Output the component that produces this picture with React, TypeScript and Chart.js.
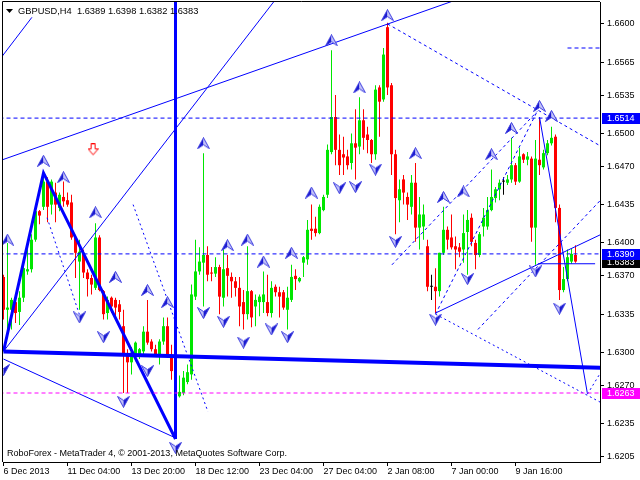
import React, { useEffect, useRef } from 'react';
import { Chart, registerables } from 'chart.js';

Chart.register(...registerables);

// ---------- data ----------
const opens = [
  1.6369, 1.6339, 1.6339, 1.6346, 1.6337, 1.6350, 1.6374, 1.6376, 1.6403, 1.6429,
  1.6433, 1.6456, 1.6435, 1.6446, 1.6432, 1.6442, 1.6439, 1.6437, 1.6405, 1.6383,
  1.6391, 1.6373, 1.6368, 1.6359, 1.6405, 1.6356, 1.6336, 1.6350, 1.6348, 1.6344,
  1.6324, 1.6298, 1.6291, 1.6296, 1.6298, 1.6301, 1.6319, 1.6310, 1.6303, 1.6298,
  1.6310, 1.6324, 1.6298, 1.6283, 1.6260, 1.6263, 1.6273, 1.6280, 1.6351, 1.6374,
  1.6382, 1.6389, 1.6373, 1.6372, 1.6378, 1.6350, 1.6377, 1.6369, 1.6365, 1.6359,
  1.6346, 1.6335, 1.6356, 1.6342, 1.6346, 1.6346, 1.6346, 1.6336, 1.6360, 1.6355,
  1.6355, 1.6339, 1.6348, 1.6370, 1.6365, 1.6382, 1.6385, 1.6413, 1.6413, 1.6409,
  1.6430, 1.6444, 1.6483, 1.6515, 1.6485, 1.6481, 1.6479, 1.6473, 1.6491, 1.6488,
  1.6512, 1.6499, 1.6494, 1.6481, 1.6542, 1.6531, 1.6597, 1.6544, 1.6481, 1.6439,
  1.6458, 1.6442, 1.6433, 1.6455, 1.6414, 1.6415, 1.6397, 1.6360, 1.6360, 1.6356,
  1.6391, 1.6412, 1.6405, 1.6397, 1.6396, 1.6394, 1.6410, 1.6423, 1.6400, 1.6389,
  1.6415, 1.6415, 1.6430, 1.6441, 1.6449, 1.6456, 1.6455, 1.6458, 1.6471, 1.6456,
  1.6481, 1.6476, 1.6477, 1.6414, 1.6476, 1.6469, 1.6482, 1.6491, 1.6497, 1.6432,
  1.6357, 1.6367, 1.6383, 1.6389,
];
const highs = [
  1.6371, 1.6400, 1.6350, 1.6350, 1.6356, 1.6380, 1.6394, 1.6408, 1.6435, 1.6430,
  1.6464, 1.6460, 1.6458, 1.6455, 1.6446, 1.6456, 1.6446, 1.6444, 1.6407, 1.6403,
  1.6394, 1.6376, 1.6371, 1.6418, 1.6407, 1.6357, 1.6351, 1.6351, 1.6350, 1.6348,
  1.6339, 1.6303, 1.6305, 1.6310, 1.6304, 1.6324, 1.6348, 1.6312, 1.6307, 1.6312,
  1.6332, 1.6332, 1.6307, 1.6289, 1.6279, 1.6283, 1.6289, 1.6362, 1.6403, 1.6396,
  1.6482, 1.6397, 1.6378, 1.6387, 1.6380, 1.6394, 1.6389, 1.6373, 1.6369, 1.6369,
  1.6357, 1.6397, 1.6357, 1.6353, 1.6353, 1.6374, 1.6371, 1.6365, 1.6362, 1.6360,
  1.6357, 1.6360, 1.6380, 1.6376, 1.6369, 1.6388, 1.6421, 1.6435, 1.6424, 1.6435,
  1.6444, 1.6490, 1.6576, 1.6535, 1.6499, 1.6497, 1.6485, 1.6500, 1.6522, 1.6533,
  1.6522, 1.6506, 1.6495, 1.6544, 1.6544, 1.6578, 1.6601, 1.6546, 1.6485, 1.6458,
  1.6462, 1.6446, 1.6462, 1.6473, 1.6442, 1.6435, 1.6403, 1.6371, 1.6377, 1.6391,
  1.6433, 1.6415, 1.6426, 1.6406, 1.6400, 1.6426, 1.6430, 1.6427, 1.6403, 1.6410,
  1.6432, 1.6442, 1.6467, 1.6451, 1.6458, 1.6460, 1.6462, 1.6496, 1.6473, 1.6487,
  1.6482, 1.6483, 1.6479, 1.6494, 1.6514, 1.6485, 1.6494, 1.6506, 1.6499, 1.6435,
  1.6378, 1.6394, 1.6395, 1.6398,
];
const lows = [
  1.6330, 1.6321, 1.6321, 1.6327, 1.6325, 1.6346, 1.6371, 1.6373, 1.6401, 1.6417,
  1.6430, 1.6419, 1.6426, 1.6419, 1.6429, 1.6433, 1.6433, 1.6403, 1.6368, 1.6339,
  1.6368, 1.6351, 1.6353, 1.6357, 1.6356, 1.6330, 1.6330, 1.6336, 1.6330, 1.6330,
  1.6263, 1.6263, 1.6280, 1.6292, 1.6294, 1.6298, 1.6307, 1.6301, 1.6297, 1.6289,
  1.6307, 1.6295, 1.6275, 1.6259, 1.6259, 1.6261, 1.6271, 1.6275, 1.6348, 1.6371,
  1.6342, 1.6365, 1.6365, 1.6369, 1.6335, 1.6342, 1.6351, 1.6350, 1.6351, 1.6324,
  1.6321, 1.6330, 1.6323, 1.6324, 1.6333, 1.6336, 1.6333, 1.6332, 1.6351, 1.6332,
  1.6339, 1.6321, 1.6346, 1.6357, 1.6364, 1.6369, 1.6380, 1.6403, 1.6406, 1.6408,
  1.6429, 1.6441, 1.6481, 1.6471, 1.6462, 1.6462, 1.6467, 1.6467, 1.6458, 1.6481,
  1.6485, 1.6482, 1.6473, 1.6476, 1.6497, 1.6529, 1.6535, 1.6462, 1.6408, 1.6419,
  1.6435, 1.6421, 1.6426, 1.6401, 1.6394, 1.6403, 1.6356, 1.6348, 1.6336, 1.6351,
  1.6389, 1.6394, 1.6394, 1.6376, 1.6387, 1.6382, 1.6371, 1.6397, 1.6376, 1.6387,
  1.6406, 1.6412, 1.6429, 1.6437, 1.6439, 1.6444, 1.6453, 1.6455, 1.6453, 1.6455,
  1.6473, 1.6471, 1.6401, 1.6380, 1.6462, 1.6467, 1.6480, 1.6489, 1.6419, 1.6348,
  1.6355, 1.6365, 1.6381, 1.6382,
];
const closes = [
  1.6339, 1.6341, 1.6348, 1.6336, 1.6350, 1.6377, 1.6376, 1.6403, 1.6429, 1.6425,
  1.6456, 1.6433, 1.6456, 1.6435, 1.6444, 1.6438, 1.6435, 1.6405, 1.6391, 1.6392,
  1.6373, 1.6367, 1.6362, 1.6405, 1.6357, 1.6335, 1.6348, 1.6342, 1.6341, 1.6337,
  1.6298, 1.6291, 1.6300, 1.6309, 1.6303, 1.6319, 1.6309, 1.6303, 1.6298, 1.6310,
  1.6324, 1.6298, 1.6283, 1.6260, 1.6264, 1.6277, 1.6282, 1.6353, 1.6374, 1.6383,
  1.6389, 1.6371, 1.6372, 1.6378, 1.6351, 1.6376, 1.6370, 1.6365, 1.6359, 1.6342,
  1.6335, 1.6356, 1.6332, 1.6348, 1.6351, 1.6353, 1.6336, 1.6359, 1.6355, 1.6351,
  1.6341, 1.6350, 1.6369, 1.6367, 1.6368, 1.6387, 1.6412, 1.6411, 1.6409, 1.6433,
  1.6442, 1.6485, 1.6515, 1.6485, 1.6471, 1.6478, 1.6471, 1.6491, 1.6487, 1.6512,
  1.6496, 1.6494, 1.6481, 1.6540, 1.6529, 1.6572, 1.6542, 1.6481, 1.6441, 1.6449,
  1.6446, 1.6435, 1.6455, 1.6414, 1.6426, 1.6426, 1.6360, 1.6360, 1.6356, 1.6391,
  1.6412, 1.6403, 1.6396, 1.6394, 1.6392, 1.6409, 1.6421, 1.6401, 1.6389, 1.6408,
  1.6423, 1.6430, 1.6442, 1.6449, 1.6455, 1.6456, 1.6458, 1.6471, 1.6456, 1.6479,
  1.6476, 1.6479, 1.6414, 1.6477, 1.6471, 1.6482, 1.6491, 1.6496, 1.6432, 1.6357,
  1.6367, 1.6387, 1.6390, 1.6383,
];

const xTickBars = [0, 16, 32, 48, 64, 80, 96, 112, 128];
const xTickLabels = [
  '6 Dec 2013', '11 Dec 04:00', '13 Dec 20:00', '18 Dec 12:00', '23 Dec 04:00',
  '27 Dec 04:00', '2 Jan 08:00', '7 Jan 00:00', '9 Jan 16:00',
];
const yTickValues = [
  1.6205, 1.6235, 1.627, 1.63, 1.6335, 1.637, 1.64, 1.6435, 1.647, 1.65, 1.6535, 1.6565, 1.66,
];

const titleText = 'GBPUSD,H4  1.6389 1.6398 1.6382 1.6383';
const footerText = 'RoboForex - MetaTrader 4, \u00a9 2001-2013, MetaQuotes Software Corp.';

// price tags on the right scale (drawn in this order)
const tagPrices = [1.6383, 1.6263, 1.6514, 1.639];

// horizontal levels
const blueLevels = [1.6514, 1.639];
const magentaLevels = [1.6263];
const shortLevel = [[141, 1.6578], [149.5, 1.6578]];

// trend lines, endpoints as [bar, price]
const zigzagThick = [[0, 1.6301], [10, 1.6464], [43, 1.6221]];
const verticalThick = [[43, 1.6625], [43, 1.6221]];
const baseThick = [[0, 1.6301], [149.5, 1.6286]];
const solidLines = [
  [[0, 1.6301], [69, 1.6627]],
  [[-2.1, 1.6562], [7.1, 1.6606]],
  [[-1, 1.6475], [114, 1.6623]],
  [[0, 1.6294], [43, 1.6222]],
  [[108, 1.6336], [149.5, 1.6408]],
  [[133.6, 1.6381], [147.9, 1.6381]],
  [[134, 1.6515], [146, 1.6262]],
];
const dashedLines = [
  [[96, 1.66], [149.5, 1.6488]],
  [[97.1, 1.638], [133.4, 1.652]],
  [[108, 1.6335], [133.4, 1.652]],
  [[118.6, 1.6321], [149.5, 1.644]],
];
const dottedLines = [
  [[10.9, 1.6423], [19.4, 1.633]],
  [[32.4, 1.6435], [51.1, 1.6246]],
  [[108, 1.6335], [149.5, 1.6254]],
  [[146, 1.6262], [149.5, 1.6283]],
];

const upFractals = [
  [1, 1.6403], [10, 1.6475], [15, 1.646], [23, 1.6428], [28, 1.6369], [36, 1.6357],
  [41, 1.6346], [50, 1.6491], [56, 1.6398], [61, 1.6403], [65, 1.6383], [72, 1.6391],
  [77, 1.6446], [82, 1.6585], [89, 1.6542], [96, 1.6608], [103, 1.6482], [110, 1.6442],
  [115, 1.6447], [122, 1.6481], [127, 1.6505], [134, 1.6525], [137, 1.6516],
];
const downFractals = [
  [0, 1.6284], [19, 1.6332], [25, 1.6314], [30, 1.6255], [36, 1.6283], [43, 1.6213],
  [50, 1.6336], [55, 1.6328], [60, 1.6309], [67, 1.6321], [71, 1.6314], [84, 1.645],
  [88, 1.6451], [93, 1.6467], [98, 1.6401], [108, 1.633], [116, 1.6367], [133, 1.6374],
  [139, 1.634],
];
const sellSignal = [[22.4, 1.6485]];

// ---------- styles ----------
const BULL = '#00e600';
const BEAR = '#ff0000';
const DOJI = '#000000';
const BLUE = '#0000ff';
const MAGENTA = '#ff00ff';
const TAG_BG = ['#000000', '#ff00ff', '#0000ff', '#0000ff'];
const FONT_FAMILY = '"Liberation Sans", Arial, sans-serif';

function makeUpArrow() {
  const c = document.createElement('canvas');
  c.width = 13; c.height = 12;
  const g = c.getContext('2d')!;
  g.fillStyle = '#1a1ad0';
  g.beginPath(); g.moveTo(6.5, 0.5); g.lineTo(6.5, 7.5); g.lineTo(0.5, 11.5); g.closePath(); g.fill();
  g.fillStyle = '#c4c4f8';
  g.beginPath(); g.moveTo(6.5, 0.5); g.lineTo(12.5, 11.5); g.lineTo(6.5, 7.5); g.closePath(); g.fill();
  g.strokeStyle = '#3c3ce0'; g.lineWidth = 1;
  g.beginPath(); g.moveTo(6.5, 0.5); g.lineTo(12.5, 11.5); g.lineTo(6.5, 7.5); g.lineTo(0.5, 11.5); g.closePath(); g.stroke();
  return c;
}
function makeDownArrow() {
  const c = document.createElement('canvas');
  c.width = 13; c.height = 12;
  const g = c.getContext('2d')!;
  g.fillStyle = '#c4c4f8';
  g.beginPath(); g.moveTo(6.5, 11.5); g.lineTo(0.5, 0.5); g.lineTo(6.5, 4.5); g.closePath(); g.fill();
  g.fillStyle = '#1a1ad0';
  g.beginPath(); g.moveTo(6.5, 11.5); g.lineTo(6.5, 4.5); g.lineTo(12.5, 0.5); g.closePath(); g.fill();
  g.strokeStyle = '#3c3ce0'; g.lineWidth = 1;
  g.beginPath(); g.moveTo(6.5, 11.5); g.lineTo(0.5, 0.5); g.lineTo(6.5, 4.5); g.lineTo(12.5, 0.5); g.closePath(); g.stroke();
  return c;
}
function makeRedArrow() {
  const c = document.createElement('canvas');
  c.width = 11; c.height = 13;
  const g = c.getContext('2d')!;
  g.fillStyle = '#ffffff';
  g.strokeStyle = '#ff0000'; g.lineWidth = 1;
  g.beginPath();
  g.moveTo(3.5, 0.5); g.lineTo(7.5, 0.5); g.lineTo(7.5, 5.5); g.lineTo(10.5, 5.5);
  g.lineTo(5.5, 11.5); g.lineTo(0.5, 5.5); g.lineTo(3.5, 5.5); g.closePath();
  g.fill(); g.stroke();
  return c;
}

const pts = (arr: number[][]) => arr.map(([x, y]) => ({ x, y }));

export default function App() {
  const ref = useRef<HTMLCanvasElement>(null);

  useEffect(() => {
    const canvas = ref.current!;
    const upImg = makeUpArrow();
    const downImg = makeDownArrow();
    const redImg = makeRedArrow();

    const idx = opens.map((_, i) => i);
    const colorOf = (i: number) =>
      closes[i] > opens[i] ? BULL : closes[i] < opens[i] ? BEAR : DOJI;

    const lineDs = (data: number[][], color: string, width: number, dash: number[] = []) => ({
      type: 'line' as const,
      data: pts(data),
      borderColor: color,
      borderWidth: width,
      borderDash: dash,
      pointRadius: 0,
      fill: false,
      tension: 0,
      order: 2,
    });

    const datasets: any[] = [
      {
        type: 'bar',
        data: idx.map((i) => ({ x: i, y: [lows[i], highs[i]] })),
        backgroundColor: (c: any) => colorOf(c.dataIndex),
        barThickness: 1,
        minBarLength: 1,
        grouped: false,
        inflateAmount: 0,
        borderWidth: 0,
        order: 10,
      },
      {
        type: 'bar',
        data: idx.map((i) => ({ x: i, y: [Math.min(opens[i], closes[i]), Math.max(opens[i], closes[i])] })),
        backgroundColor: (c: any) => colorOf(c.dataIndex),
        barThickness: 3,
        minBarLength: 1,
        grouped: false,
        inflateAmount: 0,
        borderWidth: 0,
        order: 9,
      },
    ];

    blueLevels.forEach((p) => datasets.push(lineDs([[-1, p], [150, p]], BLUE, 1, [4, 3])));
    magentaLevels.forEach((p) => datasets.push(lineDs([[-1, p], [150, p]], MAGENTA, 1, [4, 3])));
    datasets.push(lineDs(shortLevel, BLUE, 1, [4, 3]));
    datasets.push(lineDs(baseThick, BLUE, 4));
    datasets.push(lineDs(zigzagThick, BLUE, 3));
    datasets.push(lineDs(verticalThick, BLUE, 3));
    solidLines.forEach((l) => datasets.push(lineDs(l, BLUE, 1)));
    dashedLines.forEach((l) => datasets.push(lineDs(l, BLUE, 1, [3, 3])));
    dottedLines.forEach((l) => datasets.push(lineDs(l, BLUE, 1, [2, 3])));

    datasets.push({ type: 'scatter', data: pts(upFractals), pointStyle: upImg, pointRadius: 6, order: 1 });
    datasets.push({ type: 'scatter', data: pts(downFractals), pointStyle: downImg, pointRadius: 6, order: 1 });
    datasets.push({ type: 'scatter', data: pts(sellSignal), pointStyle: redImg, pointRadius: 6, order: 1 });

    const font = { family: FONT_FAMILY, size: 9 };

    const overlay = {
      id: 'mt4overlay',
      afterDraw(chart: any) {
        const { ctx, chartArea: a, scales } = chart;
        const ys = scales.y;
        ctx.save();
        ctx.strokeStyle = '#000';
        ctx.lineWidth = 1;
        ctx.beginPath();
        ctx.moveTo(a.left - 0.5, a.bottom);
        ctx.lineTo(a.left - 0.5, a.top - 0.5);
        ctx.lineTo(a.right, a.top - 0.5);
        ctx.stroke();

        ctx.fillStyle = '#000';
        ctx.beginPath();
        ctx.moveTo(a.left + 3, a.top + 7);
        ctx.lineTo(a.left + 10, a.top + 7);
        ctx.lineTo(a.left + 6.5, a.top + 11);
        ctx.closePath();
        ctx.fill();

        ctx.font = `9.3px ${FONT_FAMILY}`;
        ctx.textBaseline = 'middle';
        ctx.textAlign = 'left';
        ctx.fillText(titleText, a.left + 15, a.top + 9);
        ctx.font = `9px ${FONT_FAMILY}`;
        ctx.fillText(footerText, a.left + 4, a.bottom - 8);

        tagPrices.forEach((p, i) => {
          const py = Math.round(ys.getPixelForValue(p));
          ctx.fillStyle = TAG_BG[i];
          ctx.fillRect(a.right + 2, py - 5, 38, 11);
          ctx.fillStyle = '#fff';
          ctx.fillText(p.toFixed(4), a.right + 7, py + 0.5);
        });
        ctx.restore();
      },
    };

    const chart = new Chart(canvas, {
      type: 'bar',
      data: { datasets },
      options: {
        responsive: false,
        animation: false,
        devicePixelRatio: 1,
        events: [],
        layout: { autoPadding: false, padding: { left: 3, top: 2, right: 0, bottom: 0 } },
        plugins: { legend: { display: false }, tooltip: { enabled: false } },
        scales: {
          x: {
            type: 'linear',
            min: -0.125,
            max: 149.125,
            offset: false,
            afterBuildTicks: (s: any) => {
              s.ticks = xTickBars.map((v) => ({ value: v }));
            },
            afterFit: (s: any) => {
              s.height = 18;
              s.paddingLeft = 0;
              s.paddingRight = 0;
            },
            ticks: {
              callback: (_v: any, i: number) => xTickLabels[i],
              align: 'start',
              maxRotation: 0,
              minRotation: 0,
              autoSkip: false,
              padding: 0,
              color: '#000',
              font,
            },
            grid: { offset: false, drawOnChartArea: false, tickLength: 4, color: '#000' },
            border: { display: true, color: '#000' },
          },
          y: {
            type: 'linear',
            position: 'right',
            min: 1.62,
            max: 1.662,
            beginAtZero: false,
            afterBuildTicks: (s: any) => {
              s.ticks = yTickValues.map((v) => ({ value: v }));
            },
            afterFit: (s: any) => {
              s.width = 40;
              s.paddingTop = 0;
              s.paddingBottom = 0;
            },
            ticks: {
              callback: (v: any) => Number(v).toFixed(4),
              autoSkip: false,
              padding: 3,
              color: '#000',
              font,
            },
            grid: { drawOnChartArea: false, tickLength: 4, color: '#000' },
            border: { display: true, color: '#000' },
          },
        },
      } as any,
      plugins: [overlay],
    });

    return () => chart.destroy();
  }, []);

  return (
    <div style={{ position: 'fixed', left: 0, top: 0, width: 640, height: 480, background: '#fff' }}>
      <canvas ref={ref} width={640} height={480} style={{ display: 'block', width: 640, height: 480 }} />
    </div>
  );
}
